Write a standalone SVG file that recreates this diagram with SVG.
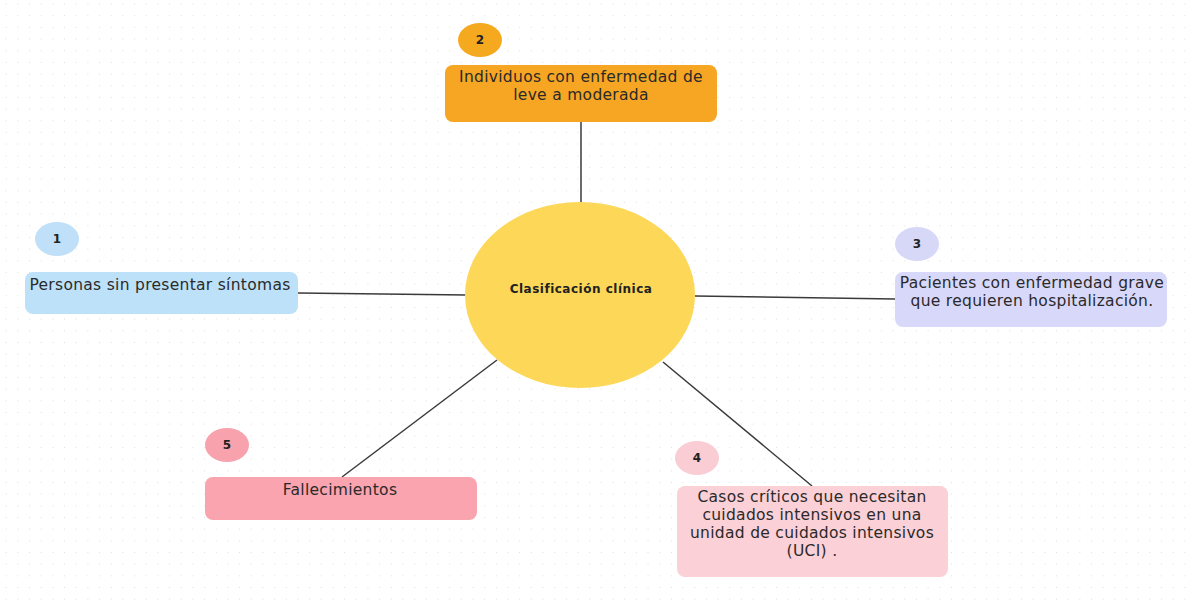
<svg xmlns="http://www.w3.org/2000/svg" width="1195" height="600" viewBox="0 0 1195 600">
<defs>
<pattern id="dots" x="5.7" y="3.5" width="11.67" height="11.67" patternUnits="userSpaceOnUse">
<circle cx="0" cy="0" r="1.1" fill="#dadada"/>
</pattern>
<style>
.lbl{font-family:"DejaVu Sans","Open Sans",sans-serif;font-size:15.5px;fill:#2a2a2a;text-anchor:middle;letter-spacing:0.3px}
.num{font-family:"DejaVu Sans","Open Sans",sans-serif;font-size:12px;font-weight:bold;fill:#222;text-anchor:middle}
.conn{stroke:#3a3a3a;stroke-width:1.5;fill:none}
</style>
</defs>
<rect width="1195" height="600" fill="#ffffff"/>
<rect width="1195" height="600" fill="url(#dots)"/>
<g id="connectors">
<line class="conn" x1="581" y1="122" x2="581" y2="203"/>
<line class="conn" x1="298" y1="293" x2="467" y2="295"/>
<line class="conn" x1="695" y1="296" x2="895" y2="299"/>
<line class="conn" x1="342" y1="477" x2="497" y2="360"/>
<line class="conn" x1="663" y1="362" x2="812" y2="486"/>
</g>
<g id="center">
<ellipse cx="580" cy="295" rx="115" ry="93" fill="#FDD757"/>
<text x="581" y="293" style="font-family:'DejaVu Sans','Open Sans',sans-serif;font-size:12px;font-weight:bold;fill:#222;text-anchor:middle;letter-spacing:0.5px">Clasificación clínica</text>
</g>
<g id="node2">
<ellipse cx="480" cy="40" rx="22" ry="17" fill="#F5A91F"/>
<text class="num" x="480" y="44">2</text>
<rect x="445" y="65" width="272" height="57" rx="8" fill="#F6A623"/>
<text class="lbl" x="581" y="82">Individuos con enfermedad de</text>
<text class="lbl" x="581" y="100">leve a moderada</text>
</g>
<g id="node1">
<ellipse cx="57" cy="239" rx="22" ry="17" fill="#BFE0F8"/>
<text class="num" x="57" y="243">1</text>
<rect x="25" y="272" width="273" height="42" rx="8" fill="#BEE1FA"/>
<text class="lbl" x="160" y="290">Personas sin presentar síntomas</text>
</g>
<g id="node3">
<ellipse cx="917" cy="244" rx="22" ry="17" fill="#D7D7F8"/>
<text class="num" x="917" y="248">3</text>
<rect x="895" y="272" width="272" height="55" rx="8" fill="#D8D8FA"/>
<text class="lbl" x="1032" y="288">Pacientes con enfermedad grave</text>
<text class="lbl" x="1032" y="306">que requieren hospitalización.</text>
</g>
<g id="node4">
<ellipse cx="697" cy="458" rx="22" ry="17" fill="#F9CDD3"/>
<text class="num" x="697" y="462">4</text>
<rect x="677" y="486" width="271" height="91" rx="8" fill="#FBD0D6"/>
<text class="lbl" x="812" y="502">Casos críticos que necesitan</text>
<text class="lbl" x="812" y="520">cuidados intensivos en una</text>
<text class="lbl" x="812" y="538">unidad de cuidados intensivos</text>
<text class="lbl" x="812" y="556">(UCI) .</text>
</g>
<g id="node5">
<ellipse cx="227" cy="445" rx="22" ry="17" fill="#F7A2AC"/>
<text class="num" x="227" y="449">5</text>
<rect x="205" y="477" width="272" height="43" rx="8" fill="#F9A4AE"/>
<text class="lbl" x="340" y="495">Fallecimientos</text>
</g>
</svg>
